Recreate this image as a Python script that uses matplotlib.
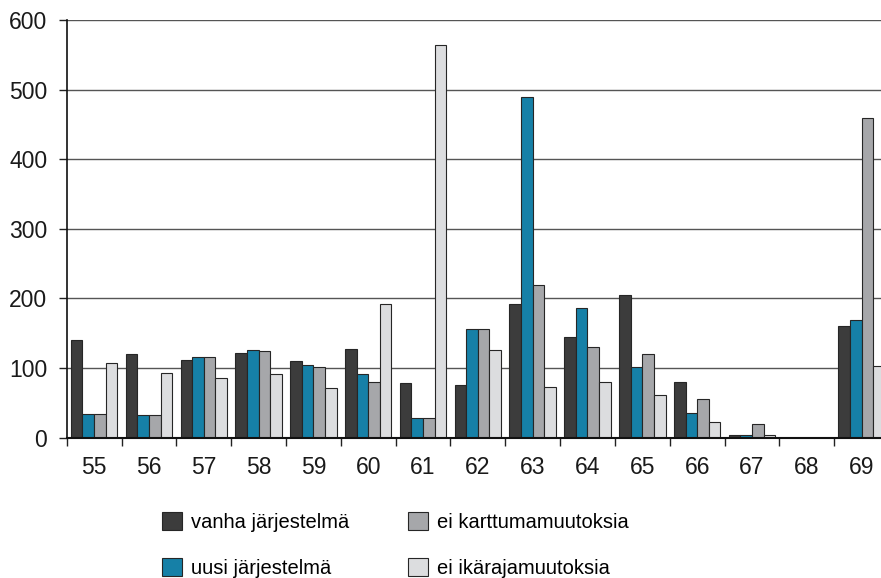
import numpy as np
import matplotlib
matplotlib.use('Agg')
import matplotlib.pyplot as plt

plt.rcParams['font.family'] = ['Liberation Sans', 'DejaVu Sans']

# ------------------------------------------------------------------------------------- #
# data
years = ['55', '56', '57', '58', '59', '60', '61', '62', '63', '64', '65', '66', '67', '68', '69']
vanha = [141, 120, 112, 122, 110, 128, 78, 76, 192, 145, 205, 80, 4, 0, 160]
uusi = [34, 32, 116, 126, 105, 92, 29, 156, 490, 187, 101, 36, 4, 0, 169]
karttuma = [34, 32, 116, 125, 101, 80, 29, 156, 219, 130, 120, 55, 19, 0, 459]
ikaraja = [107, 93, 86, 91, 72, 192, 564, 126, 73, 80, 61, 23, 4, 0, 103]

labels = ['vanha järjestelmä', 'uusi järjestelmä', 'ei karttumamuutoksia', 'ei ikärajamuutoksia']
colors = ['#3c3c3c', '#1680a7', '#a6a7aa', '#dcdddf']

# ------------------------------------------------------------------------------------- #
fig = plt.figure(figsize=(8.81, 5.78), dpi=100)
# axes runs a bit past the right edge, like the reference (last group is cut)
ax = fig.add_axes([66.7/881, 1-437.7/578, (889-66.7)/881, (437.7-20)/578])

x = np.arange(len(years))
w = 0.212
series = [vanha, uusi, karttuma, ikaraja]
for k, vals in enumerate(series):
    ax.bar(x + (k-1.5)*w, vals, width=w, color=colors[k], edgecolor='#262626',
           linewidth=0.8, label=labels[k], zorder=3)

ax.set_xlim(-0.5, len(years)-0.5)
ax.set_ylim(0, 600)
ax.set_yticks(np.arange(0, 601, 100))
ax.grid(axis='y', color='#555555', linewidth=1.0, zorder=0)

ax.set_xticks(x)
ax.set_xticklabels(years)
ax.set_xticks(np.arange(-0.5, len(years), 1.0), minor=True)
ax.tick_params(axis='x', which='major', length=0, pad=13, labelsize=16.5, colors='#1a1a1a')
ax.tick_params(axis='x', which='minor', length=6, width=1, color='#222222', direction='out')
ax.tick_params(axis='y', length=6, width=1, pad=8, labelsize=16.5, colors='#1a1a1a', color='#222222')

for s in ['top', 'right']:
    ax.spines[s].set_visible(False)
ax.spines['left'].set_color('#111111')
ax.spines['left'].set_linewidth(1.2)
ax.spines['bottom'].set_color('#111111')
ax.spines['bottom'].set_linewidth(1.5)
ax.spines['bottom'].set_zorder(4)

# legend in two columns, second row is cut by the bottom edge as in the reference
handles, labs = ax.get_legend_handles_labels()
fig.legend(handles, labs, ncol=2, loc='upper left', bbox_to_anchor=(162/881, 1-512/578),
           frameon=False, fontsize=14.5, handlelength=1.0, handleheight=1.0,
           handletextpad=0.45, columnspacing=2.9, labelspacing=1.3, borderpad=0,
           borderaxespad=0)

fig.savefig('out.png', dpi=100)
